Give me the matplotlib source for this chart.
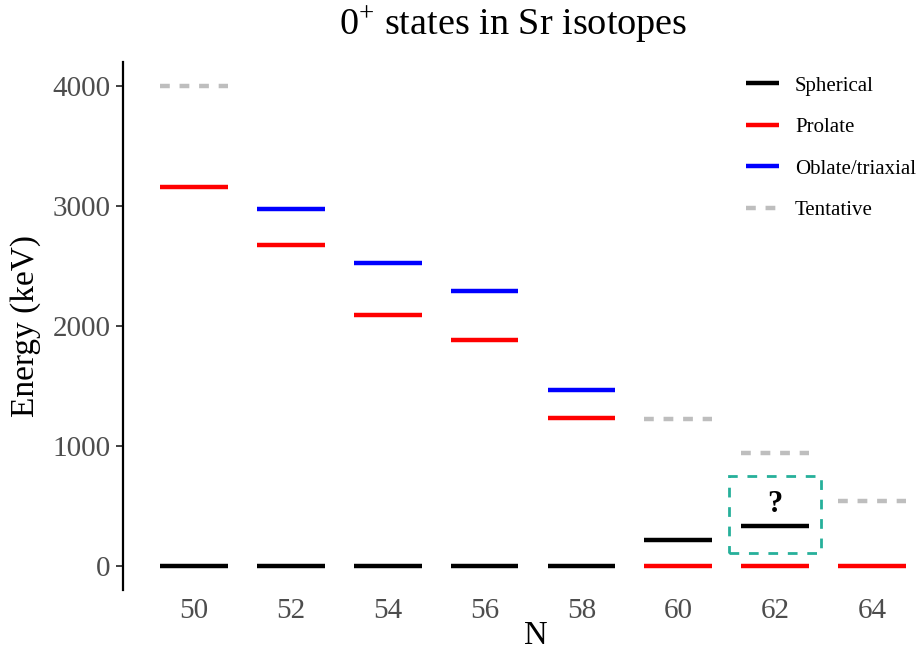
import matplotlib
matplotlib.use("Agg")
import matplotlib.pyplot as plt
from matplotlib.lines import Line2D
from matplotlib.patches import Rectangle

plt.rcParams['font.family'] = ['Liberation Serif', 'DejaVu Serif']
plt.rcParams['mathtext.fontset'] = 'custom'
plt.rcParams['mathtext.rm'] = 'Liberation Serif'

# ---- data (keV) ----
neutron_ticks = [50, 52, 54, 56, 58, 60, 62, 64]
sph_N = [50, 52, 54, 56, 58, 60, 62]
sph_E = [0, 0, 0, 0, 0, 216, 333]
pro_N = [50, 52, 54, 56, 58, 60, 62, 64]
pro_E = [3160, 2676, 2091, 1880, 1230, 0, 0, 0]
obl_N = [52, 54, 56, 58]
obl_E = [2974, 2526, 2293, 1466]
tent_N = [50, 60, 62, 64]
tent_E = [4000, 1224, 941, 541]
y_ticks = [0, 1000, 2000, 3000, 4000]
legend_labels = ["Spherical", "Prolate", "Oblate/triaxial", "Tentative"]

HW = 0.7  # half width of level lines
LW = 3.2
dash = (2.2, 2.2)

fig = plt.figure(figsize=(9.16, 6.52), dpi=100)
ax = fig.add_axes([123/916, 1-590/652, (943-123)/916, (590-62)/652])

def levels(Ns, Es, color, dashed=False):
    for n, e in zip(Ns, Es):
        l, = ax.plot([n-HW, n+HW], [e, e], color=color, lw=LW, solid_capstyle='butt',
                     dash_capstyle='butt')
        if dashed:
            l.set_dashes(dash)

levels(tent_N, tent_E, '#BEBEBE', dashed=True)
levels(sph_N, sph_E, 'black')
levels(pro_N, pro_E, '#FF0000')
levels(obl_N, obl_E, '#0000FF')

# highlight box around uncertain N=62 level
box = Rectangle((62-0.95, 105), 1.9, 645, fill=False, edgecolor='#26B09A',
                lw=2.0, linestyle=(0, (3.5, 3.5)))
ax.add_patch(box)
ax.text(62, 395, "?", ha='center', va='bottom', fontsize=22, fontweight='bold')

ax.set_xlim(48.53, 65.47)
ax.set_ylim(-200, 4200)
ax.set_xticks(neutron_ticks)
ax.set_yticks(y_ticks)
for s in ['top', 'right', 'bottom']:
    ax.spines[s].set_visible(False)
ax.spines['left'].set_linewidth(1.6)
ax.tick_params(axis='x', length=0, pad=6, labelsize=21, labelcolor='#4D4D4D')
ax.tick_params(axis='y', length=5, width=1.3, color='#333333', pad=4,
               labelsize=21, labelcolor='#4D4D4D')

ax.set_xlabel("N", fontsize=23.5)
ax.xaxis.set_label_coords(536/916, 1-621/652, transform=fig.transFigure)
ax.set_ylabel("Energy (keV)", fontsize=24, labelpad=8)
fig.text(513/916, 1-25/652, r"$\mathregular{0^{+}}$ states in Sr isotopes",
         ha='center', va='center', fontsize=27.5)

handles = [
    Line2D([], [], color='black', lw=LW, solid_capstyle='butt'),
    Line2D([], [], color='#FF0000', lw=LW, solid_capstyle='butt'),
    Line2D([], [], color='#0000FF', lw=LW, solid_capstyle='butt'),
    Line2D([], [], color='#BEBEBE', lw=LW, dashes=dash, dash_capstyle='butt'),
]
fig.legend(handles, legend_labels, loc='upper left',
           bbox_to_anchor=(746/916, 1-76/652), frameon=False, fontsize=15,
           handlelength=1.6, handletextpad=0.75, labelspacing=1.05,
           borderaxespad=0, borderpad=0)

fig.savefig("out.png", dpi=100)
